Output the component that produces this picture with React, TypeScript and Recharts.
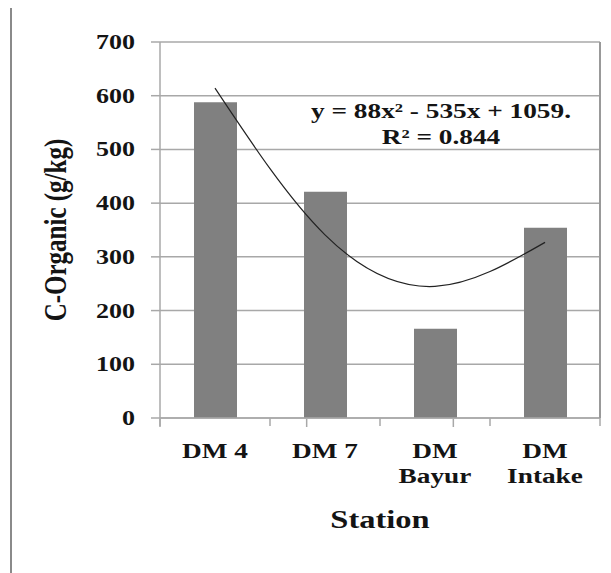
import React from 'react';
import { ComposedChart, Bar, Line, XAxis, YAxis, CartesianGrid } from 'recharts';

const stations = ['DM 4', 'DM 7', 'DM\nBayur', 'DM\nIntake'];
const cOrganic = [588, 421, 166, 354];
// quadratic trend at each station
const trendValues = [614, 341, 245, 327];
const yTicks = [0, 100, 200, 300, 400, 500, 600, 700];
const edgeTicks = [0, 1, 2, 3, 4];

const data = stations.map((station, i) => ({
  station,
  value: cOrganic[i],
  trend: trendValues[i],
}));

const FONT = '"Liberation Serif", "Times New Roman", serif';
const GRID = '#a8a8a8';
const TEXT = '#141414';

const YTick = (props: any) => {
  const { x, y, payload } = props;
  return (
    <text
      transform={`translate(${x},${y}) scale(1.3,1)`}
      textAnchor="end"
      dy="0.35em"
      fontFamily={FONT}
      fontWeight="bold"
      fontSize={20}
      fill={TEXT}
    >
      {payload.value}
    </text>
  );
};

const EmptyTick = () => <g />;

const XTick = (props: any) => {
  const { x, y, payload, width, visibleTicksCount, index } = props;
  const lines = String(payload.value).split('\n');
  // tick marks sit on the category boundaries, not under the bars
  const band = typeof width === 'number' && visibleTicksCount ? width / visibleTicksCount : 0;
  return (
    <g transform={`translate(${x},${y})`}>
      {band > 0 && (
        <line x1={-band / 2} x2={-band / 2} y1={0} y2={8} stroke={GRID} strokeWidth={1.5} />
      )}
      {band > 0 && index === visibleTicksCount - 1 && (
        <line x1={band / 2} x2={band / 2} y1={0} y2={8} stroke={GRID} strokeWidth={1.5} />
      )}
      {lines.map((line, i) => (
        <text
          key={i}
          transform={`translate(0,${40 + i * 25}) scale(1.3,1)`}
          textAnchor="middle"
          fontFamily={FONT}
          fontWeight="bold"
          fontSize={21}
          fill={TEXT}
        >
          {line}
        </text>
      ))}
    </g>
  );
};

const YTitle = (props: any) => {
  const vb = props.viewBox;
  const cy = vb.y + vb.height / 2;
  return (
    <text
      transform={`translate(55,${cy}) scale(1.3,1) rotate(-90)`}
      textAnchor="middle"
      dy="0.35em"
      fontFamily={FONT}
      fontWeight="bold"
      fontSize={25}
      fill={TEXT}
    >
      C-Organic (g/kg)
    </text>
  );
};

const XTitle = (props: any) => {
  const vb = props.viewBox;
  const cx = vb.x + vb.width / 2;
  return (
    <text
      transform={`translate(${cx},${vb.y + 110}) scale(1.3,1)`}
      textAnchor="middle"
      fontFamily={FONT}
      fontWeight="bold"
      fontSize={25}
      fill={TEXT}
    >
      Station
    </text>
  );
};

export default function App() {
  return (
    <div style={{ position: 'absolute', left: 0, top: 0, width: 611, height: 573, background: '#fff' }}>
      <div style={{ position: 'absolute', left: 10, top: 8, width: 2, height: 565, background: '#8a8a8a' }} />
      <ComposedChart
        width={611}
        height={573}
        data={data}
        margin={{ top: 42, right: 10, bottom: 153, left: 0 }}
      >
        <CartesianGrid vertical={false} stroke={GRID} strokeWidth={1.5} />
        <XAxis
          dataKey="station"
          height={1}
          tickLine={false}
          tickSize={0}
          tickMargin={0}
          axisLine={{ stroke: GRID, strokeWidth: 1.5 }}
          tick={<XTick />}
          interval={0}
          label={<XTitle />}
        />
        <XAxis
          xAxisId="edges"
          type="number"
          domain={[0, 4]}
          ticks={edgeTicks}
          height={1}
          tick={<EmptyTick />}
          tickSize={8}
          tickLine={{ stroke: GRID, strokeWidth: 1.5 }}
          axisLine={false}
        />
        <YAxis
          width={160}
          domain={[0, 700]}
          ticks={yTicks}
          interval={0}
          tickSize={9}
          tickMargin={16}
          tickLine={{ stroke: GRID, strokeWidth: 1.5 }}
          axisLine={{ stroke: GRID, strokeWidth: 1.5 }}
          tick={<YTick />}
          label={<YTitle />}
        />
        <YAxis
          yAxisId="right"
          orientation="right"
          width={1}
          domain={[0, 700]}
          tick={false}
          tickLine={false}
          axisLine={{ stroke: '#999', strokeWidth: 2 }}
        />
        <Bar dataKey="value" fill="#808080" barSize={43} isAnimationActive={false} />
        <Line
          dataKey="trend"
          type="natural"
          stroke="#222"
          strokeWidth={1.2}
          dot={false}
          isAnimationActive={false}
        />
      </ComposedChart>
      <div
        style={{
          position: 'absolute',
          left: 441,
          top: 124,
          transform: 'translate(-50%,-50%) scaleX(1.3)',
          whiteSpace: 'nowrap',
          textAlign: 'center',
          fontFamily: FONT,
          fontWeight: 'bold',
          fontSize: 21,
          lineHeight: '26px',
          color: TEXT,
        }}
      >
        <div>y = 88x² - 535x + 1059.</div>
        <div>R² = 0.844</div>
      </div>
    </div>
  );
}
